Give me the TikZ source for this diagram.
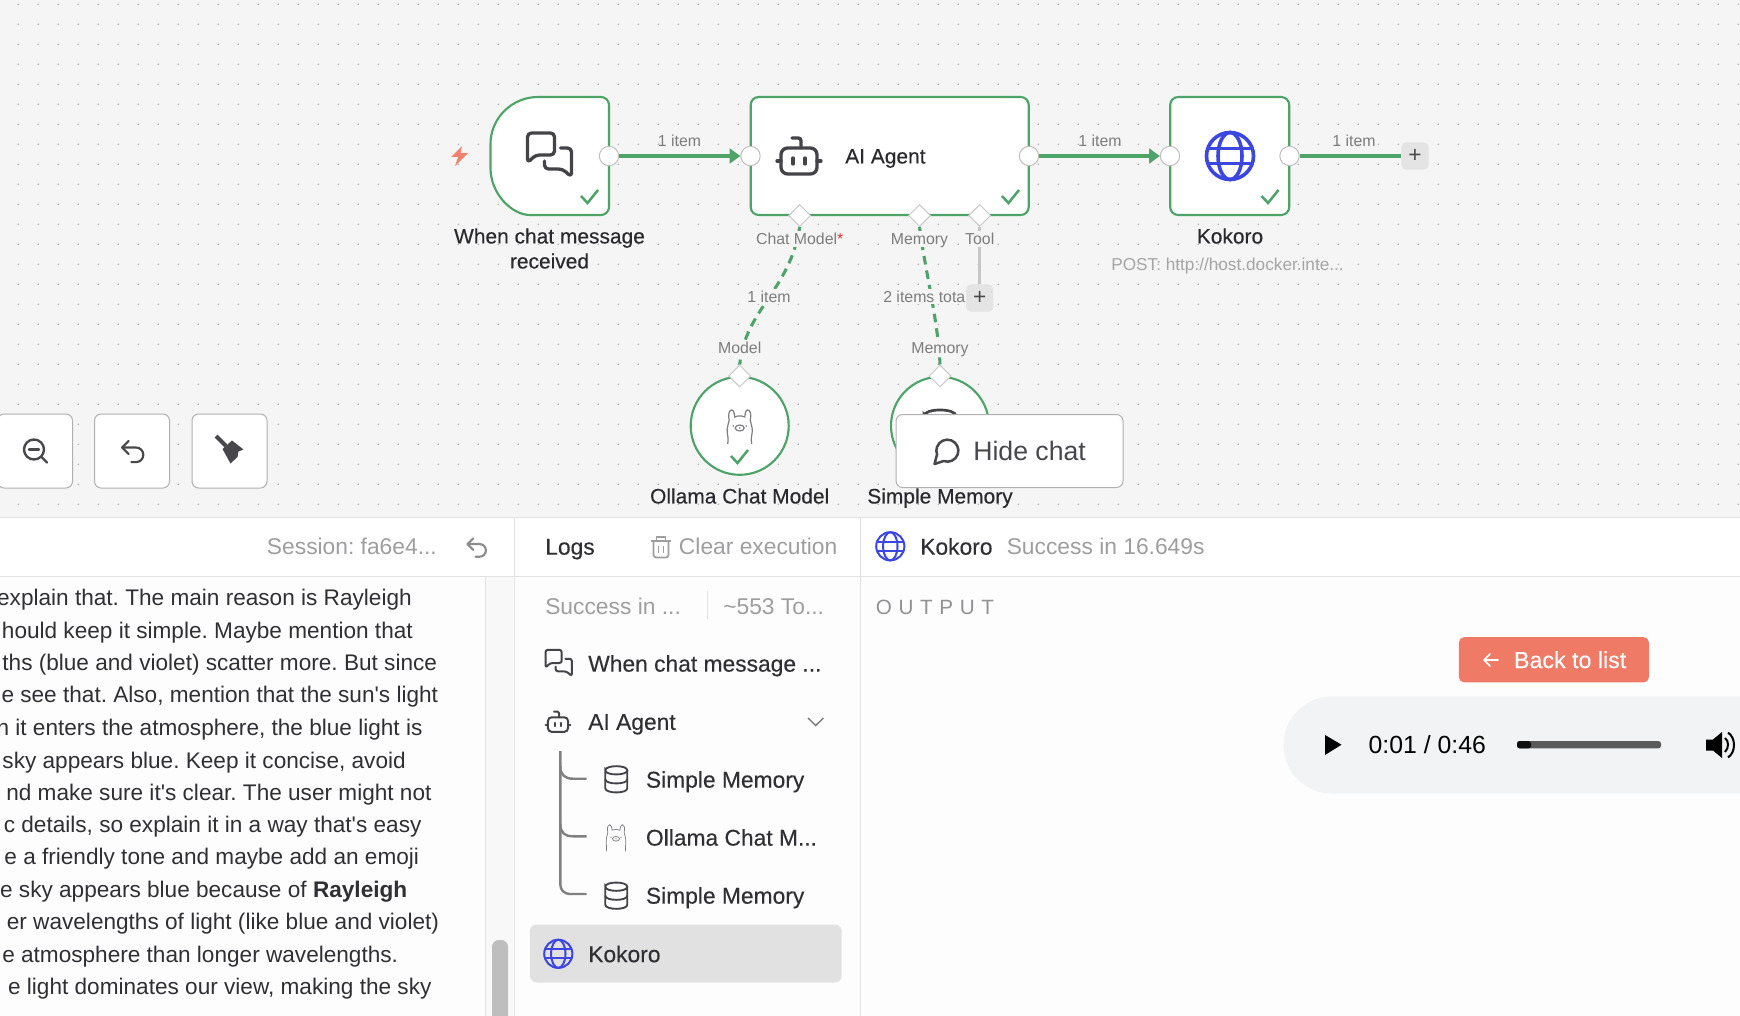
\documentclass[tikz,border=0pt]{standalone}
\usepackage{xcolor}
\usepackage{fontspec}
\setmainfont{Liberation Sans}
\newfontfamily\plainfont{Liberation Sans}
\newfontfamily\medfont[FakeBold=0.3]{Liberation Sans}
\newfontfamily\spacedfont[LetterSpace=32]{Liberation Sans}
\usetikzlibrary{arrows.meta,shapes.geometric}

%Icons, all drawn round their centre
\newcommand{\globeicon}[4]{\begin{scope}[shift={(#1,#2)},scale=#3,color={rgb, 255:red, 60; green, 70; blue, 225 },line width=#4]
\draw (0,0) circle (23.5);
\draw (0,0) ellipse (12 and 23.5);
\draw (-21.5,-7.5) -- (21.5,-7.5);
\draw (-21.5,7.5) -- (21.5,7.5);
\end{scope}}
\newcommand{\chaticon}[4]{\begin{scope}[shift={(#1,#2)},scale=#3,color={rgb, 255:red, 68; green, 68; blue, 72 },line width=#4,line join=round,line cap=round]
\draw [rounded corners=#3*3pt] (-22,8) -- (-22,-22) -- (5,-22) -- (5,0) -- (-14,0) -- cycle;
\draw [rounded corners=#3*3pt] (11,-7) -- (22,-7) -- (22,22) -- (13,14) -- (-5,14) -- (-5,6);
\end{scope}}
\newcommand{\roboticon}[4]{\begin{scope}[shift={(#1,#2)},scale=#3,color={rgb, 255:red, 68; green, 68; blue, 72 },line width=#4,line cap=round]
\draw [rounded corners=#3*5pt] (-18,-12) rectangle (18,14);
\draw (-22,1) -- (-18,1);
\draw (18,1) -- (22,1);
\draw [rounded corners=#3*2pt] (-7,-22) -- (2,-22) -- (2,-12);
\draw (-6,-2) -- (-6,4);
\draw (6,-2) -- (6,4);
\end{scope}}
\newcommand{\dbicon}[4]{\begin{scope}[shift={(#1,#2)},scale=#3,color={rgb, 255:red, 68; green, 68; blue, 72 },line width=#4]
\draw (-11,-9) .. controls (-11,-14.5) and (11,-14.5) .. (11,-9) .. controls (11,-3.5) and (-11,-3.5) .. (-11,-9) -- (-11,9) .. controls (-11,14.5) and (11,14.5) .. (11,9) -- (11,-9) ;
\draw (-11,0) .. controls (-11,5.5) and (11,5.5) .. (11,0) ;
\end{scope}}
\newcommand{\llamaicon}[4]{\begin{scope}[shift={(#1,#2)},scale=#3,color={rgb, 255:red, 125; green, 125; blue, 130 },line width=#4]
\draw (-12,17) .. controls (-11,11) and (-12,10) .. (-12.5,5) .. controls (-13,0) and (-11,-3) .. (-10.5,-7) .. controls (-12,-14) and (-10,-17) .. (-8,-17) .. controls (-6,-17) and (-5,-13) .. (-5,-10) .. controls (-2,-11.5) and (2,-11.5) .. (5,-10) .. controls (5,-13) and (6,-17) .. (8,-17) .. controls (10,-17) and (12,-14) .. (10.5,-7) .. controls (11,-3) and (13,0) .. (12.5,5) .. controls (12,10) and (11,11) .. (12,17) ;
\draw (0,1) ellipse (4.5 and 3);
\fill (0,1) circle (0.9);
\fill (-6.5,-1) circle (0.8);
\fill (6.5,-1) circle (0.8);
\end{scope}}
\newcommand{\undoicon}[4]{\begin{scope}[shift={(#1,#2)},scale=#3,color={rgb, 255:red, #4; green, #4; blue, #4 },line width=1.6pt,line cap=round,line join=round]
\draw (-3,2) -- (-8,-3) -- (-3,-8);
\draw (-8,-3) -- (2.5,-3) arc (-90:90:5.5) -- (-1,8);
\end{scope}}

\begin{document}
\frenchspacing
\begin{tikzpicture}[x=0.75pt,y=0.75pt,yscale=-1,xscale=1,
  nodetxt/.style={inner sep=0pt,font=\medfont\fontsize{15.7pt}{18pt}\selectfont,text height=11.2pt,text depth=0pt,color={rgb, 255:red, 42; green, 42; blue, 46 }},
  edgetxt/.style={inner sep=0pt,font=\fontsize{11.9pt}{14pt}\selectfont,text height=8.5pt,text depth=0pt,color={rgb, 255:red, 125; green, 125; blue, 125 }},
  edgemask/.style={edgetxt,fill={rgb, 255:red, 245; green, 245; blue, 245 },inner xsep=1pt,inner ysep=1.5pt},
  paneltxt/.style={inner sep=0pt,font=\medfont\fontsize{17.1pt}{20pt}\selectfont,text height=12.2pt,text depth=0pt,color={rgb, 255:red, 48; green, 48; blue, 52 },anchor=west},
  greytxt/.style={inner sep=0pt,font=\fontsize{17.1pt}{20pt}\selectfont,text height=12.2pt,text depth=0pt,anchor=west,color={rgb, 255:red, 158; green, 158; blue, 160 }},
  chattxt/.style={inner sep=0pt,font=\plainfont\fontsize{16.95pt}{20pt}\selectfont,text height=12pt,text depth=0pt,color={rgb, 255:red, 48; green, 48; blue, 52 },anchor=east},
  nodebox/.style={draw={rgb, 255:red, 77; green, 163; blue, 104 },fill=white,line width=1.6pt,rounded corners=6pt,inner sep=0pt},
  portin/.style={circle,draw={rgb, 255:red, 190; green, 190; blue, 190 },fill=white,line width=0.75pt,minimum size=14.5pt,inner sep=0pt},
  portsub/.style={diamond,draw={rgb, 255:red, 200; green, 200; blue, 200 },fill=white,line width=0.75pt,minimum size=16.5pt,inner sep=0pt},
  plusbox/.style={color={rgb, 255:red, 72; green, 72; blue, 72 },fill={rgb, 255:red, 228; green, 228; blue, 228 },rounded corners=3.5pt,minimum size=20.5pt,inner sep=0pt,font=\fontsize{17pt}{18pt}\selectfont},
  toolbtn/.style={draw={rgb, 255:red, 176; green, 176; blue, 176 },fill=white,line width=0.75pt,rounded corners=5pt,minimum width=56.25pt,minimum height=55.5pt,inner sep=0pt},
  edgeline/.style={color={rgb, 255:red, 77; green, 163; blue, 104 },line width=2.3pt},
  edgesub/.style={edgeline,dash pattern=on 6.5pt off 4.5pt},
  checkline/.style={color={rgb, 255:red, 77; green, 163; blue, 104 },line width=1.9pt},
  darkline/.style={color={rgb, 255:red, 72; green, 72; blue, 76 },line width=1.8pt,line cap=round,line join=round},
  panelrule/.style={color={rgb, 255:red, 226; green, 226; blue, 226 },line width=0.9pt},
  treeline/.style={color={rgb, 255:red, 128; green, 128; blue, 128 },line width=1.8pt}]
\clip (0,0) rectangle (1740,1016);

%Shape: Canvas
\fill [color={rgb, 255:red, 245; green, 245; blue, 245 }] (0,0) rectangle (1740,517.5);
%Canvas dots
\foreach \dotx in {18.3,38.3,...,1740} {
  \foreach \doty in {4.3,24.3,...,510} {
    \fill [color={rgb, 255:red, 175; green, 175; blue, 175 }] (\dotx,\doty) circle (0.85);
  }
}

%Shape: Panels
\fill [color={rgb, 255:red, 253; green, 253; blue, 253 }] (0,517.5) rectangle (1740,1016);
\fill [white] (0,517.5) rectangle (1740,576.5);
\fill [color={rgb, 255:red, 248; green, 248; blue, 248 }] (485,577) rectangle (513,1016);

%Trigger shape
\draw [nodebox] (538,97) -- (609,97) -- (609,215) -- (538,215) [sharp corners] .. controls (512,215) and (490.5,194) .. (490.5,168) -- (490.5,144) .. controls (490.5,118) and (512,97) .. (538,97) ;

%Node boxes
\draw (889.7,156) node (agentbox) [nodebox,minimum width=208.5pt,minimum height=88.5pt] {};
\draw (1229.7,156) node (kokorobox) [nodebox,minimum width=89.25pt,minimum height=88.5pt] {};
\draw (739.7,425.8) node (ollamabox) [nodebox,circle,minimum size=73.5pt] {};
\draw (940,425.8) node (memorybox) [nodebox,circle,minimum size=73.5pt] {};

%Ports
\draw (609,156) node (triggerout) [portin] {};
\draw (750.5,156) node (agentin) [portin] {};
\draw (1029,156) node (agentout) [portin] {};
\draw (1170,156) node (kokoroin) [portin] {};
\draw (1289.5,156) node (kokoroout) [portin] {};
\draw (799.7,215.5) node (agentmodel) [portsub] {};
\draw (919.5,215.5) node (agentmemory) [portsub] {};
\draw (979.7,215.5) node (agenttool) [portsub] {};
\draw (739.7,376) node (ollamaport) [portsub] {};
\draw (940,376) node (memoryport) [portsub] {};

%Straight Lines
\draw [edgeline,-{Triangle[length=8pt,width=11pt]}] (triggerout) -- (agentin) ;
\draw [edgeline,-{Triangle[length=8pt,width=11pt]}] (agentout) -- (kokoroin) ;
%Dashed curves
\draw [edgesub] (agentmodel.south) .. controls (790,290) and (745,310) .. (ollamaport.north) ;
\draw [edgesub] (agentmemory.south) .. controls (925,270) and (938,320) .. (memoryport.north) ;

% Text Node
\draw (679.5,141) node (itemone) [edgetxt] {1 item};
\draw (1100,141) node (itemtwo) [edgetxt] {1 item};
\draw (1354,141) node (itemthree) [edgetxt] {1 item};
\draw (799.7,239) node (lblmodel) [edgemask] {Chat Model\textcolor[rgb]{0.88,0.2,0.22}{*}};
\draw (919.5,239) node (lblmemory) [edgemask] {Memory};
\draw (769,296.5) node (itemmodel) [edgemask] {1 item};
\draw (883,296.5) node (itemmemory) [edgemask,anchor=west,inner xsep=0pt] {2 items total};
\draw (739.7,347.7) node (lblollama) [edgemask] {Model};
\draw (940,347.7) node (lblmem) [edgemask] {Memory};

%Plus boxes
\draw (979.7,298) node (toolplus) [plusbox] {+};
\draw (1415,156) node (kokoroplus) [plusbox] {+};
\draw [edgeline] (kokoroout) -- (kokoroplus) ;
\draw [color={rgb, 255:red, 198; green, 198; blue, 198 },line width=2.1pt] (agenttool) -- (toolplus) ;
% Text Node
\draw (979.7,239) node (lbltool) [edgemask] {Tool};

% Text Node
\draw (549.5,236) node (lbltrigger) [nodetxt] {When chat message};
\draw (549.5,261) node (lbltriggerb) [nodetxt] {received};
\draw (845,156) node (lblagent) [nodetxt,anchor=west] {AI Agent};
\draw (1230,236) node (lblkokoro) [nodetxt] {Kokoro};
\draw (1227.5,264) node (lblpost) [inner sep=0pt,font=\fontsize{12.9pt}{15pt}\selectfont,text height=9.2pt,text depth=0pt,color={rgb, 255:red, 165; green, 165; blue, 165 }] {POST: http://host.docker.inte...};
\draw (739.7,496) node (lblollamachat) [nodetxt] {Ollama Chat Model};
\draw (940,496) node (lblsimple) [nodetxt] {Simple Memory};

%Bolt
\fill [color={rgb, 255:red, 242; green, 130; blue, 110 }] (462,146) -- (451,157) -- (458,157) -- (455,166) -- (468,153) -- (460.5,153) -- cycle ;
%Checks
\draw [checkline] (581,196) -- (587.5,203) -- (598,190) ;
\draw [checkline] (1002,196) -- (1008.5,203) -- (1019,190) ;
\draw [checkline] (1261.5,196) -- (1268,203) -- (1278.5,190) ;
\draw [checkline] (731,456) -- (737.5,463) -- (748,450) ;

%Icons on the canvas
\chaticon{549.5}{155}{1}{2.5pt}
\roboticon{799}{160}{1}{2.5pt}
\globeicon{1230}{156}{1}{2.7pt}
\llamaicon{739.7}{427}{1}{0.9pt}
\dbicon{940}{429}{1.45}{2pt}

%Tool buttons
\draw (35,451) node (btnzoom) [toolbtn] {};
\draw (132,451) node (btnundo) [toolbtn] {};
\draw (229.5,451) node (btnclear) [toolbtn] {};
\draw [darkline] (34,449.5) circle (10);
\draw [darkline] (29,449.5) -- (39,449.5);
\draw [darkline] (41.5,457) -- (47,462.5);
\undoicon{132.7}{451.5}{1.33}{72}
\draw [darkline,line width=3pt,line cap=butt] (216,436) -- (226,446);
\fill [color={rgb, 255:red, 72; green, 72; blue, 76 }] (222.5,449) -- (232,440.5) -- (243.5,449.5) -- (238.5,451.5) -- (237.5,457) -- (230.5,463.5) -- cycle ;

%Hide chat button
\draw (1009.5,451) node (btnhide) [toolbtn,minimum width=170.25pt,minimum height=54.75pt] {};
\draw [darkline,line width=1.9pt] (943.6,461) arc (110:-200:11) -- (934.5,464) -- cycle ;
\draw (973,451) node (lblhide) [anchor=west,inner sep=0pt,font=\fontsize{20pt}{24pt}\selectfont,text height=14.3pt,text depth=0pt,color={rgb, 255:red, 72; green, 72; blue, 76 }] {Hide chat};

%Panel rules
\draw [panelrule] (0,517.5) -- (1740,517.5) ;
\draw [panelrule] (0,576.5) -- (1740,576.5) ;
\draw [panelrule] (514.7,517.5) -- (514.7,1016) ;
\draw [panelrule] (860.7,517.5) -- (860.7,1016) ;
\draw [panelrule,line width=0.6pt] (485,577) -- (485,1016) ;

% Text Node
\draw (266.7,546.5) node (lblsession) [greytxt] {Session: fa6e4...};
\undoicon{476.7}{547.5}{1.15}{140}

%Chat lines
\draw (412,597.3) node (chatline1) [chattxt] {explain that. The main reason is Rayleigh};
\draw (413,630) node (chatline2) [chattxt] {hould keep it simple. Maybe mention that};
\draw (437.3,662) node (chatline3) [chattxt] {ths (blue and violet) scatter more. But since};
\draw (438.3,694.7) node (chatline4) [chattxt] {e see that. Also, mention that the sun's light};
\draw (422.7,727) node (chatline5) [chattxt] {n it enters the atmosphere, the blue light is};
\draw (406,760) node (chatline6) [chattxt] {sky appears blue. Keep it concise, avoid};
\draw (431.7,792) node (chatline7) [chattxt] {nd make sure it's clear. The user might not};
\draw (421.7,824.7) node (chatline8) [chattxt] {c details, so explain it in a way that's easy};
\draw (419.3,856.7) node (chatline9) [chattxt] {e a friendly tone and maybe add an emoji};
\draw (407.5,889) node (chatline10) [chattxt] {e sky appears blue because of \textbf{Rayleigh}};
\draw (439.3,921.7) node (chatline11) [chattxt] {er wavelengths of light (like blue and violet)};
\draw (398.3,954) node (chatline12) [chattxt] {e atmosphere than longer wavelengths.};
\draw (431.7,986.7) node (chatline13) [chattxt] {e light dominates our view, making the sky};

%Scrollbar
\fill [color={rgb, 255:red, 190; green, 190; blue, 190 },rounded corners=5pt] (492,940) rectangle (508,1040);

% Text Node
\draw (545,546.5) node (lbllogs) [paneltxt] {Logs};
\draw (678.7,546.5) node (lblclear) [greytxt] {Clear execution};
\draw (545,606) node (lblsuccess) [greytxt] {Success in ...};
\draw (723,606) node (lbltokens) [greytxt] {\textasciitilde 553 To...};
\draw (588,663.5) node (logtrigger) [paneltxt] {When chat message ...};
\draw (588,721.7) node (logagent) [paneltxt] {AI Agent};
\draw (645.7,779.5) node (logmemorya) [paneltxt] {Simple Memory};
\draw (645.7,837.5) node (logollama) [paneltxt] {Ollama Chat M...};
\draw (645.7,895.5) node (logmemoryb) [paneltxt] {Simple Memory};

%Trash
\begin{scope}[color={rgb, 255:red, 158; green, 158; blue, 160 },line width=1.3pt,line join=round]
\draw (651,541) -- (671,541);
\draw (656.5,541) -- (656.5,537) -- (665.5,537) -- (665.5,541);
\draw [rounded corners=2pt] (653.5,541) -- (653.5,557.5) -- (668.5,557.5) -- (668.5,541);
\draw (658.5,546) -- (658.5,553);
\draw (663.5,546) -- (663.5,553);
\end{scope}
%Divider
\draw [panelrule] (707.3,591) -- (707.3,619) ;

%Small icons
\chaticon{558.7}{663}{0.6}{1.5pt}
\roboticon{558}{724}{0.56}{1.5pt}
\draw [color={rgb, 255:red, 125; green, 125; blue, 125 },line width=1.1pt] (808,718) -- (815.7,725.5) -- (823.4,718) ;
%Tree lines
\draw [treeline,rounded corners=7pt] (560.3,751) -- (560.3,894) -- (586.7,894) ;
\draw [treeline] (560.3,766) .. controls (560.3,775) and (565,778.7) .. (573,778.7) -- (586.7,778.7) ;
\draw [treeline] (560.3,824) .. controls (560.3,833) and (565,836.3) .. (573,836.3) -- (586.7,836.3) ;
\dbicon{616.3}{779.3}{1}{1.4pt}
\llamaicon{616}{838}{0.78}{0.55pt}
\dbicon{616.3}{895.7}{1}{1.4pt}

%Selected row
\draw (685.8,953.5) node (rowkokoro) [fill={rgb, 255:red, 225; green, 225; blue, 225 },rounded corners=5pt,minimum width=233.8pt,minimum height=43.5pt,inner sep=0pt] {};
\globeicon{558.3}{953.8}{0.6}{1.5pt}
\draw (588,954) node (logkokoro) [paneltxt] {Kokoro};

%Output side
\globeicon{890.3}{546.3}{0.6}{1.5pt}
\draw (920,546.5) node (outkokoro) [paneltxt] {Kokoro};
\draw (1006.5,546.5) node (outsuccess) [greytxt] {Success in 16.649s};
\draw (875.7,607.5) node (lbloutput) [anchor=west,inner sep=0pt,font=\spacedfont\fontsize{15.5pt}{18pt}\selectfont,text height=11.1pt,text depth=0pt,color={rgb, 255:red, 145; green, 145; blue, 148 }] {OUTPUT};

%Back button
\draw (1553.9,659.8) node (btnback) [fill={rgb, 255:red, 239; green, 122; blue, 102 },rounded corners=4pt,minimum width=142.5pt,minimum height=34pt,inner sep=0pt] {};
\draw [white,line width=1.2pt,line cap=round,line join=round] (1498,660) -- (1484,660) (1490,654) -- (1484,660) -- (1490,666) ;
\draw (1513.8,659.7) node (lblback) [anchor=west,inner sep=0pt,font=\medfont\fontsize{17.4pt}{20pt}\selectfont,text height=12.5pt,text depth=0pt,color=white] {Back to list};

%Audio player
\fill [color={rgb, 255:red, 241; green, 243; blue, 244 },rounded corners=36pt] (1283.7,696.5) rectangle (1830,793.5);
\fill [black] (1325,735) -- (1341.5,744.7) -- (1325,755) -- cycle ;
\draw (1368.4,745) node (lbltime) [anchor=west,inner sep=0pt,font=\fontsize{18.6pt}{22pt}\selectfont,text height=13.2pt,text depth=0pt,color=black] {0:01 / 0:46};
\fill [color={rgb, 255:red, 90; green, 90; blue, 90 },rounded corners=2pt] (1517,741) rectangle (1661,748.4);
\fill [color={rgb, 255:red, 16; green, 16; blue, 16 },rounded corners=2pt] (1517,741) rectangle (1531,748.4);
\fill [black] (1706,739.5) -- (1713,739.5) -- (1722,732) -- (1722,758) -- (1713,750.5) -- (1706,750.5) -- cycle ;
\draw [black,line width=1.5pt] (1725,738) .. controls (1729,741) and (1729,748) .. (1725,752) ;
\draw [black,line width=1.5pt] (1728,732.5) .. controls (1736,738) and (1736,752) .. (1728,757.5) ;

\end{tikzpicture}
\end{document}
